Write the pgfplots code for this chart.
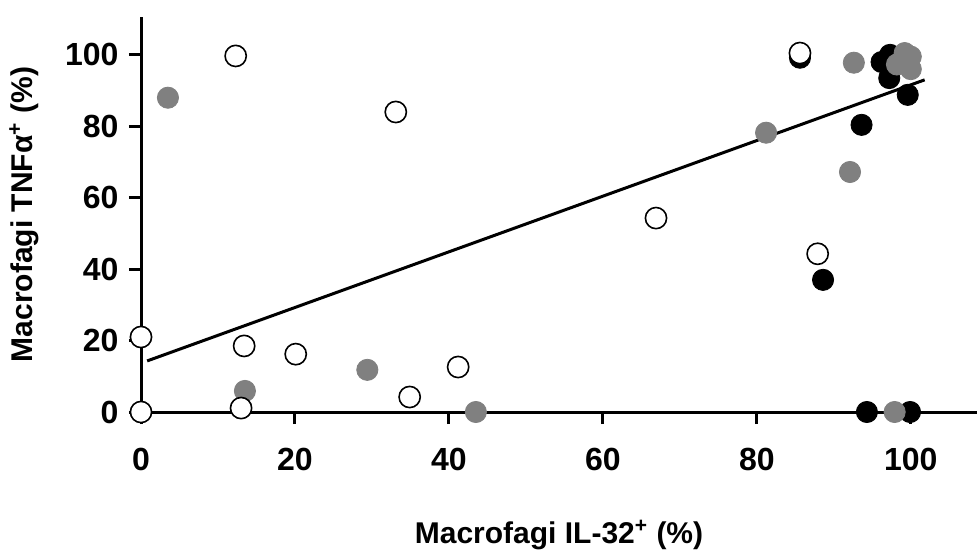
\documentclass[border=0pt]{standalone}
\usepackage{fontspec}
\setmainfont{Liberation Sans}
\usepackage{pgfplots}
\pgfplotsset{compat=1.18}
\definecolor{dotgray}{RGB}{128,128,128}

\begin{document}
\begin{tikzpicture}
\useasboundingbox (-70.5pt,-69.5pt) rectangle (418pt,206pt);
\begin{axis}[
  scale only axis,
  width=418pt, height=197.5pt,
  xmin=0, xmax=108.6, ymin=0, ymax=110.6,
  axis x line=bottom, axis y line=left,
  axis line style={-, line width=1.5pt},
  clip=false,
  xtick={0,20,...,100}, ytick={0,20,...,100},
  tick align=outside, major tick length=6pt,
  tick style={line width=1.5pt, black},
  ticklabel style={font=\fontsize{16}{19}\selectfont\bfseries},
  /pgf/number format/assume math mode=true,
  xticklabel style={yshift=-8.5pt},
  yticklabel style={xshift=-1.7pt},
  label style={font=\fontsize{15}{18}\selectfont\bfseries},
  xlabel={Macrofagi IL-32\textsuperscript{+} (\%)},
  ylabel={Macrofagi TNFα\textsuperscript{+} (\%)},
  xlabel style={at={(axis description cs:0.5,-0.311)}, anchor=center},
  ylabel style={at={(axis description cs:-0.14,0.5)}, anchor=center},
  every axis plot/.append style={only marks, mark=*, mark size=5.3pt},
]
% black
\addplot[mark options={draw=black, fill=black}] coordinates {
  (85.6,99.2) (96.2,98.0) (97.3,100.0) (97.2,93.5) (99.6,88.8)
  (93.6,80.4) (88.6,37.0) (94.3,0) (99.9,0)
};
% grey
\addplot[mark options={draw=dotgray, fill=dotgray}] coordinates {
  (3.5,88.0) (13.5,5.9) (29.4,11.8) (43.5,0) (81.2,78.2)
  (92.6,97.8) (92.1,67.2) (97.9,0)
  (98.2,97.3) (99.2,100.5) (100,96) (100,99.5)
};
% white
\addplot[mark options={draw=black, fill=white, line width=0.8pt}] coordinates {
  (12.3,99.7) (33.1,84.0) (66.9,54.3) (85.6,100.5) (87.9,44.3)
  (0,21.0) (0,0) (13.4,18.5) (20.1,16.2) (34.9,4.2) (41.2,12.6) (13.0,1.1)
};
% regression line
\addplot[no marks, sharp plot, line width=1.5pt, black] coordinates {
  (0.8,14.3) (101.8,93.0)
};
\end{axis}
\end{tikzpicture}
\end{document}
